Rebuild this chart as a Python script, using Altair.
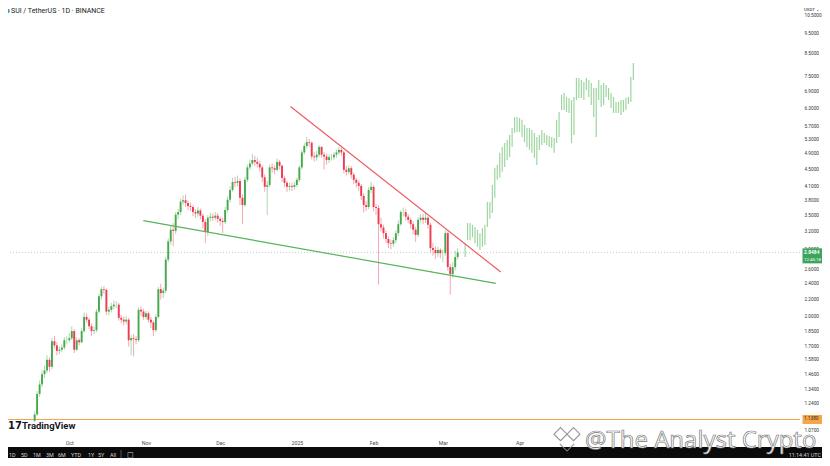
import altair as alt
import pandas as pd

# ---------------- data ----------------
first_day = "2024-09-17"
first_open = 1.13
closes = [1.17, 1.31, 1.38, 1.46, 1.49, 1.58, 1.52, 1.75, 1.71, 1.66,
          1.67, 1.69, 1.76, 1.76, 1.78, 1.85, 1.67, 1.76, 1.74, 1.85,
          2.00, 1.97, 1.90, 1.85, 1.86, 2.06, 2.24, 2.33, 2.32, 2.06,
          2.08, 2.12, 2.14, 2.14, 1.99, 1.97, 1.95, 1.97, 1.76, 1.78,
          1.77, 1.76, 2.08, 2.06, 2.00, 2.04, 1.97, 1.94, 1.86, 2.00,
          2.33, 2.28, 2.31, 2.74, 3.03, 3.23, 3.21, 3.51, 3.56, 3.77,
          3.80, 3.74, 3.68, 3.66, 3.56, 3.53, 3.59, 3.49, 3.37, 3.19,
          3.45, 3.47, 3.45, 3.49, 3.43, 3.39, 3.37, 3.60, 3.81, 4.02,
          4.20, 4.18, 4.22, 3.85, 3.70, 4.25, 4.55, 4.65, 4.74, 4.69,
          4.64, 4.55, 4.31, 4.09, 4.13, 4.55, 4.53, 4.49, 4.69, 4.59,
          4.29, 4.18, 4.09, 4.11, 4.09, 4.13, 4.25, 4.55, 4.94, 5.12,
          5.23, 5.21, 4.83, 4.81, 4.88, 5.09, 4.88, 4.83, 4.74, 4.81,
          4.81, 4.88, 4.94, 5.01, 4.94, 4.49, 4.44, 4.53, 4.37, 4.25,
          4.18, 4.11, 3.89, 3.70, 3.66, 4.02, 4.09, 3.66, 3.64, 3.33,
          3.27, 3.17, 3.07, 3.00, 2.99, 3.05, 3.17, 3.33, 3.56, 3.56,
          3.47, 3.41, 3.33, 3.23, 3.14, 3.41, 3.45, 3.41, 3.45, 3.32,
          2.92, 2.89, 2.84, 2.89, 2.84, 2.84, 3.17, 2.63, 2.53, 2.63,
          2.78, 2.85]
highs = [1.19, 1.33, 1.41, 1.49, 1.53, 1.62, 1.60, 1.78, 1.80, 1.74,
         1.70, 1.72, 1.79, 1.80, 1.83, 1.90, 1.87, 1.79, 1.78, 1.88,
         2.05, 2.04, 1.99, 1.93, 1.90, 2.09, 2.27, 2.36, 2.37, 2.34,
         2.12, 2.16, 2.19, 2.18, 2.16, 2.02, 2.00, 2.01, 1.99, 1.81,
         1.82, 1.80, 2.11, 2.12, 2.09, 2.07, 2.06, 2.00, 1.96, 2.03,
         2.36, 2.40, 2.35, 2.78, 3.08, 3.30, 3.35, 3.56, 3.62, 3.84,
         3.90, 3.92, 3.80, 3.75, 3.70, 3.62, 3.66, 3.63, 3.53, 3.42,
         3.50, 3.55, 3.53, 3.56, 3.54, 3.47, 3.45, 3.66, 3.88, 4.10,
         4.30, 4.32, 4.35, 4.28, 3.92, 4.32, 4.62, 4.75, 4.90, 4.85,
         4.80, 4.72, 4.60, 4.38, 4.22, 4.62, 4.65, 4.60, 4.78, 4.74,
         4.62, 4.35, 4.22, 4.18, 4.18, 4.20, 4.30, 4.60, 5.00, 5.20,
         5.37, 5.32, 5.25, 4.95, 4.98, 5.15, 5.12, 4.95, 4.90, 4.88,
         4.90, 4.95, 5.02, 5.10, 5.08, 4.98, 4.58, 4.60, 4.58, 4.42,
         4.30, 4.24, 4.15, 3.95, 3.78, 4.08, 4.20, 4.12, 3.72, 3.70,
         3.45, 3.32, 3.22, 3.12, 3.06, 3.10, 3.22, 3.40, 3.60, 3.65,
         3.62, 3.52, 3.45, 3.38, 3.28, 3.46, 3.52, 3.52, 3.55, 3.48,
         3.36, 3.00, 2.95, 2.94, 2.92, 2.90, 3.22, 3.20, 2.68, 2.70,
         2.88, 2.92]
lows = [1.12, 1.16, 1.29, 1.36, 1.43, 1.47, 1.48, 1.50, 1.68, 1.62,
        1.63, 1.65, 1.67, 1.72, 1.74, 1.76, 1.64, 1.66, 1.71, 1.73,
        1.83, 1.94, 1.87, 1.80, 1.82, 1.84, 2.04, 2.20, 2.27, 2.02,
        2.02, 2.05, 2.09, 2.10, 1.96, 1.93, 1.91, 1.92, 1.70, 1.62,
        1.61, 1.72, 1.74, 2.01, 1.97, 1.97, 1.94, 1.88, 1.80, 1.84,
        1.98, 2.20, 2.22, 2.28, 2.70, 2.98, 2.95, 3.15, 3.42, 3.50,
        3.70, 3.66, 3.60, 3.58, 3.48, 3.45, 3.47, 3.42, 3.25, 3.00,
        3.12, 3.38, 3.39, 3.40, 3.36, 3.30, 3.17, 3.33, 3.55, 3.75,
        3.98, 4.08, 4.10, 3.70, 3.33, 3.66, 4.20, 4.48, 4.60, 4.58,
        4.55, 4.45, 4.20, 3.98, 3.50, 4.08, 4.42, 4.38, 4.45, 4.50,
        4.20, 4.08, 3.98, 4.00, 4.00, 4.02, 4.08, 4.20, 4.50, 4.88,
        5.05, 5.10, 4.75, 4.70, 4.72, 4.82, 4.80, 4.50, 4.62, 4.66,
        4.72, 4.74, 4.80, 4.88, 4.85, 4.40, 4.35, 4.38, 4.28, 4.15,
        4.08, 4.00, 3.80, 3.55, 3.58, 3.62, 3.95, 3.58, 3.50, 2.39,
        3.20, 3.08, 3.00, 2.92, 2.90, 2.94, 3.00, 3.12, 3.30, 3.48,
        3.40, 3.35, 3.25, 3.15, 3.02, 3.10, 3.36, 3.33, 3.35, 3.25,
        2.85, 2.80, 2.75, 2.78, 2.76, 2.70, 2.80, 2.58, 2.26, 2.48,
        2.58, 2.74]

proj_first_day = "2025-03-10"
proj_high = [3.00, 3.35, 3.35, 3.32, 3.28, 3.23, 3.17, 3.26, 3.32, 3.76,
             3.76, 4.13, 4.54, 4.61, 4.93, 5.09, 5.20, 5.29, 5.44, 5.65,
             6.00, 6.00, 5.97, 5.91, 5.75, 5.65, 5.65, 5.59, 5.50, 5.38,
             5.44, 5.59, 5.50, 5.44, 5.41, 5.38, 5.35, 5.91, 6.17, 6.78,
             6.85, 6.70, 6.66, 6.59, 6.70, 7.44, 7.44, 7.36, 7.28, 7.44,
             7.36, 7.24, 7.04, 7.04, 7.36, 7.16, 7.24, 7.16, 7.04, 6.85,
             6.70, 6.52, 6.52, 6.59, 6.59, 6.66, 6.70, 7.48, 8.08]
proj_low = [2.78, 3.05, 3.05, 3.10, 3.00, 2.94, 2.89, 2.94, 2.97, 3.28,
            3.43, 3.54, 3.85, 4.25, 4.30, 4.44, 4.56, 4.74, 4.82, 5.09,
            5.50, 5.53, 5.53, 5.38, 5.23, 5.09, 5.01, 4.93, 4.79, 4.61,
            5.01, 5.15, 5.20, 5.15, 5.09, 5.06, 4.93, 5.20, 5.38, 6.24,
            6.24, 6.17, 6.14, 5.20, 5.44, 6.59, 6.66, 6.66, 6.59, 6.96,
            6.70, 6.41, 6.00, 5.38, 6.59, 6.34, 6.41, 6.70, 6.59, 6.31,
            6.14, 6.14, 6.14, 6.07, 6.17, 6.24, 6.45, 6.52, 7.36]

resist_dates = ["2024-12-29 09:36", "2025-03-24 09:50"]
resist_prices = [6.363, 2.560]
support_dates = ["2024-10-30 22:20", "2025-03-22 10:05"]
support_prices = [3.396, 2.405]

price_ticks = [10.5, 9.5, 8.5, 7.5, 6.9, 6.3, 5.7, 5.3, 4.9, 4.5, 4.1, 3.8,
               3.5, 3.2, 2.9, 2.6, 2.4, 2.2, 2.0, 1.85, 1.7, 1.58, 1.46,
               1.34, 1.24, 1.07]
month_ticks = ["2024-10-01", "2024-11-01", "2024-12-01", "2025-01-01",
               "2025-02-01", "2025-03-01", "2025-04-01"]
view_dates = ["2024-09-08 06:00", "2025-07-21 08:24"]
view_prices = [1.0393, 10.93]

last_price = 2.8484
last_label = "2.8484"
countdown = "12:45:18"
level_price = 1.138
level_label = "1.1380"

title_text = "SUI / TetherUS \u00b7 1D \u00b7 BINANCE"
ranges = ["1D", "5D", "1M", "3M", "6M", "YTD", "1Y", "5Y", "All"]
clock_text = "11:14:41 UTC"
watermark = "@The Analyst Crypto"

# ---------------- build ----------------
def ms(s):
    return int(pd.Timestamp(s, tz="UTC").timestamp() * 1000)

W, H = 792, 428
PAD_R, PAD_B = 22, 22
TOT_W, TOT_H = W + PAD_R, H + PAD_B
GREEN, RED = "#45a94c", "#ec3b50"
FONT = "Roboto"

days = pd.date_range(first_day, periods=len(closes), freq="D", tz="UTC")
opens = [first_open] + closes[:-1]
candles = pd.DataFrame({
    "t": [int(d.timestamp() * 1000) for d in days],
    "open": opens, "close": closes, "high": highs, "low": lows,
    "dir": ["up" if c >= o else "down" for o, c in zip(opens, closes)],
})
pdays = pd.date_range(proj_first_day, periods=len(proj_high), freq="D", tz="UTC")
proj = pd.DataFrame({"t": [int(d.timestamp() * 1000) for d in pdays],
                     "high": proj_high, "low": proj_low})
resist = pd.DataFrame({"t": [ms(d) for d in resist_dates], "price": resist_prices})
support = pd.DataFrame({"t": [ms(d) for d in support_dates], "price": support_prices})
last_df = pd.DataFrame({"price": [last_price], "label": [last_label], "cd": [countdown]})
level_df = pd.DataFrame({"price": [level_price], "label": [level_label]})
one = pd.DataFrame({"k": [0]})

xscale = alt.Scale(type="utc", domain=[ms(d) for d in view_dates], nice=False)
yscale = alt.Scale(type="log", domain=view_prices, nice=False, zero=False)
xaxis = alt.Axis(values=[ms(d) for d in month_ticks], title=None, grid=False,
                 domain=False, ticks=False, labelFontSize=5.3, labelColor="#4a4a4a",
                 labelFont=FONT, labelPadding=4, labelFlush=False, labelOverlap=False,
                 labelExpr="utcmonth(datum.value) == 0 ? utcFormat(datum.value, '%Y') : utcFormat(datum.value, '%b')")
yaxis = alt.Axis(orient="right", values=price_ticks, format=".4f", title=None,
                 grid=False, domain=False, ticks=False, labelFontSize=4.7,
                 labelColor="#333333", labelFont=FONT, labelPadding=4,
                 labelFlush=False, labelOverlap=False)


def X(f):
    return alt.X(f, type="temporal", scale=xscale, axis=xaxis)


def Y(f):
    return alt.Y(f, type="quantitative", scale=yscale, axis=yaxis)


cscale = alt.Scale(domain=["up", "down"], range=[GREEN, RED])

dotted = alt.Chart(last_df).mark_rule(color="#bdbdbd", strokeDash=[1, 2], strokeWidth=0.8).encode(y=Y("price"))
level = alt.Chart(level_df).mark_rule(color="#f2a44e", strokeWidth=1).encode(y=Y("price"))

wicks = alt.Chart(candles).mark_rule(strokeWidth=0.9, opacity=0.5).encode(
    x=X("t"), y=Y("low"), y2="high",
    color=alt.Color("dir:N", scale=cscale, legend=None))
bodies = alt.Chart(candles).mark_bar(size=1.9).encode(
    x=X("t"), y=Y("open"), y2="close",
    color=alt.Color("dir:N", scale=cscale, legend=None))
projection = alt.Chart(proj).mark_rule(color="#9ed6a0", strokeWidth=1.2).encode(
    x=X("t"), y=Y("low"), y2="high")

res_line = alt.Chart(resist).mark_line(color="#ef5b66", strokeWidth=1.2).encode(x=X("t"), y=Y("price"))
sup_line = alt.Chart(support).mark_line(color="#56b45a", strokeWidth=1.2).encode(x=X("t"), y=Y("price"))

last_box = alt.Chart(last_df).mark_point(shape="M-1,-0.34H1V0.86H-1Z", size=625, filled=True,
                                         color="#3aa55b", opacity=1, strokeWidth=0).encode(
    y=Y("price"), x=alt.value(807))
last_txt = alt.Chart(last_df).mark_text(align="left", baseline="middle", fontSize=4.9, fontWeight="bold",
                                        color="white", font=FONT).encode(
    y=Y("price"), x=alt.value(796), text="label:N")
last_cd = alt.Chart(last_df).mark_text(align="left", baseline="middle", fontSize=4.4, dy=7,
                                       color="white", font=FONT).encode(
    y=Y("price"), x=alt.value(796), text="cd:N")
level_box = alt.Chart(level_df).mark_point(shape="M-1,-0.36H1V0.36H-1Z", size=625, filled=True,
                                           color="#f5a54a", opacity=1, strokeWidth=0).encode(
    y=Y("price"), x=alt.value(807))
level_txt = alt.Chart(level_df).mark_text(align="left", baseline="middle", fontSize=4.7,
                                          color="#3a2a10", font=FONT).encode(
    y=Y("price"), x=alt.value(796), text="label:N")


def label(txt, x, y, size, color, weight="normal", align="left", font=FONT, **kw):
    return alt.Chart(one).mark_text(align=align, baseline="middle", fontSize=size, color=color,
                                    fontWeight=weight, font=font, **kw).encode(
        x=alt.value(x), y=alt.value(y), text=alt.value(txt))


icon_path = ("M-1,-0.45L-0.5,-0.95L0,-0.45L-0.5,0.05Z "
             "M0,-0.45L0.5,-0.95L1,-0.45L0.5,0.05Z "
             "M-0.55,0.3L0,0.85L0.55,0.3")
sui_icon = alt.Chart(one).mark_point(shape="circle", size=22, filled=True, color="#35a0c4",
                                     opacity=1).encode(x=alt.value(-0.5), y=alt.value(3))

deco = [sui_icon,
        label(title_text, 3, 3.2, 7, "#131722"),
        label("USDT \u2304", 796, 2.2, 4.4, "#131722"),
        label("17", 0, 418, 10, "#131722", weight="bold", font="DejaVu Sans"),
        label("TradingView", 14, 418, 9.5, "#131722", weight="bold")]

toolbar = alt.Chart(one).mark_rect(color="#0b0b0b").encode(
    x=alt.value(0), x2=alt.value(TOT_W), y=alt.value(439), y2=alt.value(TOT_H))
range_x = [1, 13, 25, 38, 50, 63, 80, 90, 102]
TB_Y = 446.5
tb = [label(r, xx, TB_Y, 5.4, "#d1d4dc") for r, xx in zip(ranges, range_x)]
tb.append(label(clock_text, TOT_W - 1, TB_Y, 5.4, "#d1d4dc", align="right"))
sep = alt.Chart(one).mark_rule(color="#555555").encode(
    x=alt.value(113), y=alt.value(442), y2=alt.value(450))
tb.append(sep)
tb.append(label("\u25a1", 119, TB_Y, 7, "#d1d4dc", font="DejaVu Sans"))

wm_icon = alt.Chart(one).mark_point(shape=icon_path, size=676, filled=False, color="#8a8a8a",
                                    strokeWidth=1.1, opacity=0.9).encode(
    x=alt.value(559), y=alt.value(432))
wm = [wm_icon,
      label(watermark, 577, 433, 24, "white", font="Open Sans", stroke="#7a7a7a", strokeWidth=0.7)]

chart = alt.layer(dotted, level, wicks, bodies, projection, res_line, sup_line,
                  last_box, last_txt, last_cd, level_box, level_txt,
                  *deco, toolbar, *tb, *wm).properties(
    width=W, height=H, background="white",
    padding={"left": 0, "top": 0, "right": PAD_R, "bottom": PAD_B},
    autosize=alt.AutoSizeParams(type="none"),
).configure_view(stroke=None)

chart.save("out.html", embed_options={"renderer": "svg", "actions": False})
